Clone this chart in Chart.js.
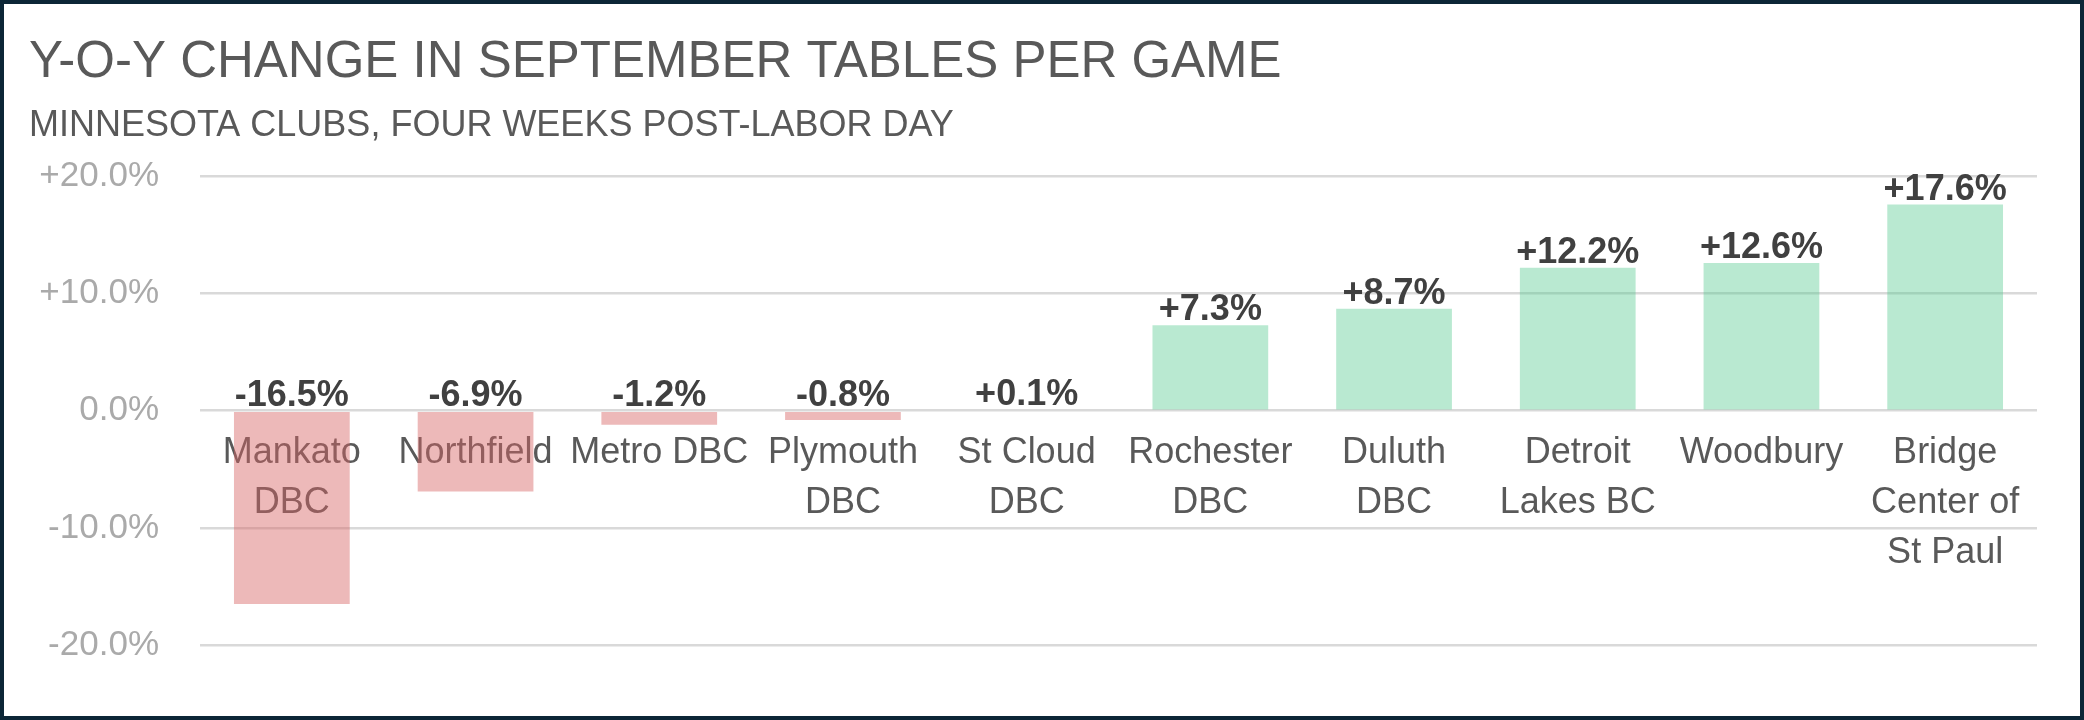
<!DOCTYPE html>
<html>
<head>
<meta charset="utf-8">
<title>Y-O-Y change in September tables per game</title>
<script src="https://cdn.jsdelivr.net/npm/chart.js@4.4.1/dist/chart.umd.min.js"></script>
<style>
    html, body {
        margin: 0;
        padding: 0;
        background: #ffffff;
    }
    .frame {
        width: 2084px;
        height: 720px;
        box-sizing: border-box;
        border: 4px solid #0c2636;
        background: #ffffff;
    }
    .frame canvas {
        display: block;
    }
</style>
</head>
<body>
<div class="frame">
    <canvas id="yoyChart" width="2076" height="712"></canvas>
</div>
<script>
const clubNames = [
    ['Mankato', 'DBC'],
    'Northfield',
    'Metro DBC',
    ['Plymouth', 'DBC'],
    ['St Cloud', 'DBC'],
    ['Rochester', 'DBC'],
    ['Duluth', 'DBC'],
    ['Detroit', 'Lakes BC'],
    'Woodbury',
    ['Bridge', 'Center of', 'St Paul']
];
const yoyChange = [-16.5, -6.9, -1.2, -0.8, 0.1, 7.3, 8.7, 12.2, 12.6, 17.6];
const axisTicks = [-20, -10, 0, 10, 20];

const FONT = '"Liberation Sans", Arial, sans-serif';
const negativeFill = 'rgba(215, 100, 100, 0.45)';
const positiveFill = 'rgba(80, 200, 140, 0.4)';

function formatPercent(value) {
    const text = Math.abs(value).toFixed(1) + '%';
    if (value > 0) {
        return '+' + text;
    }
    if (value < 0) {
        return '-' + text;
    }
    return text;
}

// value labels sit above the bar top, or just above the zero line for negatives
const valueLabels = {
    id: 'valueLabels',
    afterDatasetsDraw: function (chart) {
        const ctx = chart.ctx;
        const yScale = chart.scales.y;
        const meta = chart.getDatasetMeta(0);
        ctx.save();
        ctx.font = 'bold 36px ' + FONT;
        ctx.fillStyle = '#404040';
        ctx.textAlign = 'center';
        ctx.textBaseline = 'alphabetic';
        meta.data.forEach(function (bar, index) {
            const value = yoyChange[index];
            const top = yScale.getPixelForValue(Math.max(value, 0));
            ctx.fillText(formatPercent(value), bar.x, top - 5);
        });
        ctx.restore();
    }
};

new Chart(document.getElementById('yoyChart').getContext('2d'), {
    type: 'bar',
    data: {
        labels: clubNames,
        datasets: [
            {
                data: yoyChange,
                backgroundColor: yoyChange.map(function (value) {
                    return value < 0 ? negativeFill : positiveFill;
                }),
                borderWidth: 0,
                categoryPercentage: 1,
                barPercentage: 0.63
            }
        ]
    },
    options: {
        responsive: false,
        animation: false,
        layout: {
            padding: {
                left: 25,
                right: 43,
                top: 0,
                bottom: 71
            }
        },
        plugins: {
            legend: {
                display: false
            },
            tooltip: {
                enabled: false
            },
            title: {
                display: true,
                text: 'Y-O-Y CHANGE IN SEPTEMBER TABLES PER GAME',
                align: 'start',
                color: '#595959',
                font: {
                    family: FONT,
                    size: 51,
                    weight: 'normal',
                    lineHeight: 1.2
                },
                padding: {
                    top: 28,
                    bottom: 11
                }
            },
            subtitle: {
                display: true,
                text: 'MINNESOTA CLUBS, FOUR WEEKS POST-LABOR DAY',
                align: 'start',
                color: '#595959',
                font: {
                    family: FONT,
                    size: 36,
                    weight: 'normal',
                    lineHeight: 1.2
                },
                padding: {
                    top: 0,
                    bottom: 29
                }
            }
        },
        scales: {
            x: {
                position: { y: 0 },
                z: 1,
                grid: {
                    display: false
                },
                border: {
                    display: false
                },
                ticks: {
                    color: '#595959',
                    padding: 9,
                    autoSkip: false,
                    maxRotation: 0,
                    font: {
                        family: FONT,
                        size: 36,
                        lineHeight: 1.39
                    }
                }
            },
            y: {
                min: axisTicks[0],
                max: axisTicks[axisTicks.length - 1],
                afterBuildTicks: function (scale) {
                    scale.ticks = axisTicks.map(function (value) {
                        return { value: value };
                    });
                },
                afterFit: function (scale) {
                    scale.width = 171;
                },
                grid: {
                    color: '#d9d9d9',
                    lineWidth: 2.5,
                    drawTicks: false
                },
                border: {
                    display: false
                },
                ticks: {
                    color: '#aaaaaa',
                    padding: 41,
                    font: {
                        family: FONT,
                        size: 35
                    },
                    callback: function (value) {
                        return formatPercent(value);
                    }
                }
            }
        }
    },
    plugins: [valueLabels]
});
</script>
</body>
</html>
